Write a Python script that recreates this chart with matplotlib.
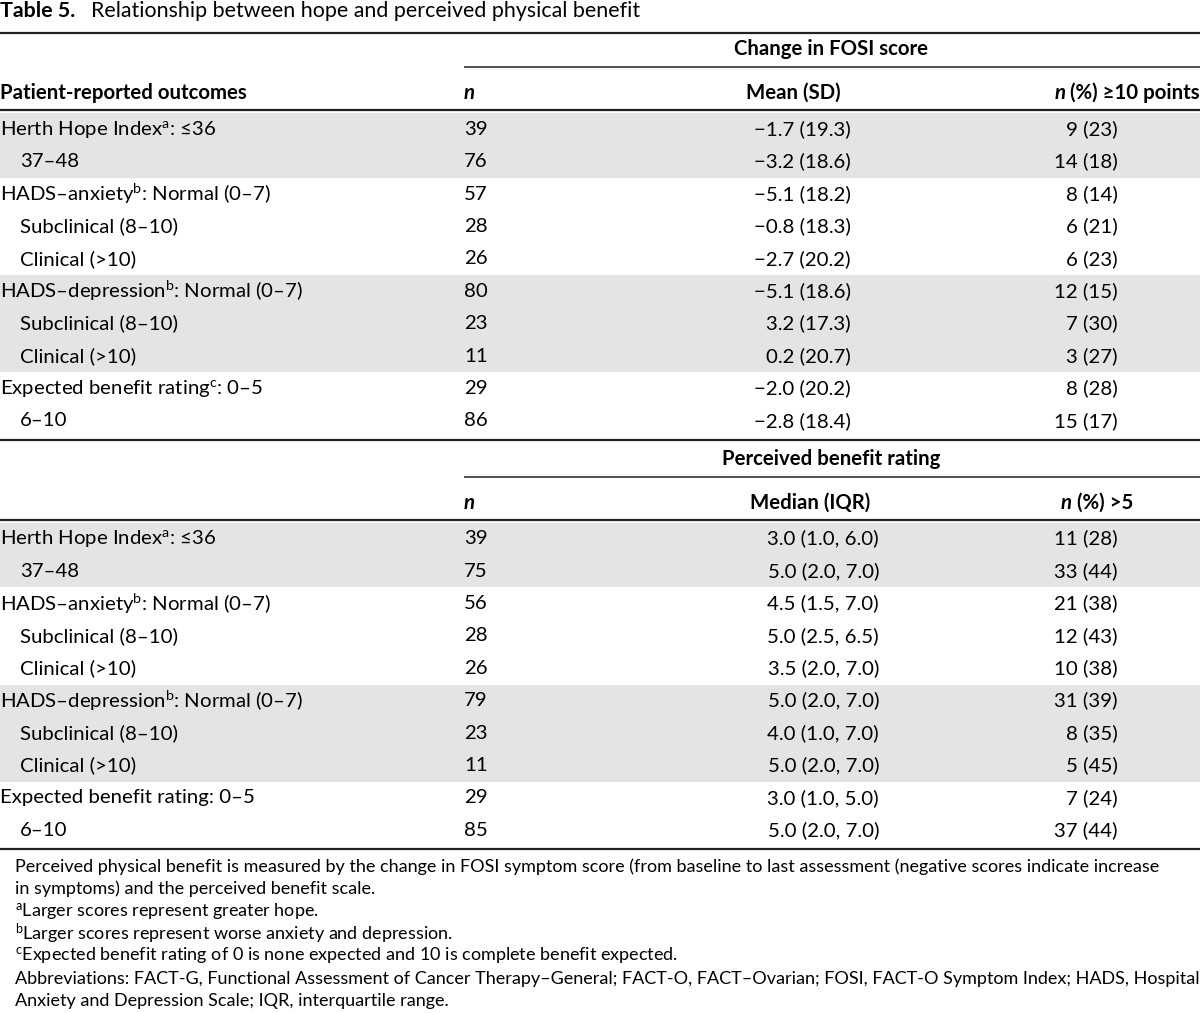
import matplotlib
matplotlib.use("Agg")
import matplotlib.pyplot as plt

plt.rcParams['font.family'] = ['Lato', 'DejaVu Sans']
plt.rcParams['mathtext.fontset'] = 'custom'
plt.rcParams['mathtext.rm'] = 'Lato'
plt.rcParams['mathtext.it'] = 'Lato:italic'
plt.rcParams['mathtext.bf'] = 'Lato:bold'

# ---- data ----
title_bold = "Table 5."
title_rest = "Relationship between hope and perceived physical benefit"

labels1 = ["Herth Hope Index$^{\\rm a}$: ≤36", "37–48",
           "HADS–anxiety$^{\\rm b}$: Normal (0–7)", "Subclinical (8–10)", "Clinical (>10)",
           "HADS–depression$^{\\rm b}$: Normal (0–7)", "Subclinical (8–10)", "Clinical (>10)",
           "Expected benefit rating$^{\\rm c}$: 0–5", "6–10"]
labels2 = labels1[:8] + ["Expected benefit rating: 0–5", "6–10"]
indent = [0, 1, 0, 1, 1, 0, 1, 1, 0, 1]
shaded = [1, 1, 0, 0, 0, 1, 1, 1, 0, 0]

n1 = [39, 76, 57, 28, 26, 80, 23, 11, 29, 86]
mean1 = [-1.7, -3.2, -5.1, -0.8, -2.7, -5.1, 3.2, 0.2, -2.0, -2.8]
sd1 = [19.3, 18.6, 18.2, 18.3, 20.2, 18.6, 17.3, 20.7, 20.2, 18.4]
cnt1 = [9, 14, 8, 6, 6, 12, 7, 3, 8, 15]
pct1 = [23, 18, 14, 21, 23, 15, 30, 27, 28, 17]

n2 = [39, 75, 56, 28, 26, 79, 23, 11, 29, 85]
med2 = [3.0, 5.0, 4.5, 5.0, 3.5, 5.0, 4.0, 5.0, 3.0, 5.0]
q1_2 = [1.0, 2.0, 1.5, 2.5, 2.0, 2.0, 1.0, 2.0, 1.0, 2.0]
q3_2 = [6.0, 7.0, 7.0, 6.5, 7.0, 7.0, 7.0, 7.0, 5.0, 7.0]
cnt2 = [11, 33, 21, 12, 10, 31, 8, 5, 7, 37]
pct2 = [28, 44, 38, 43, 38, 39, 35, 45, 24, 44]

footnotes = [
    "Perceived physical benefit is measured by the change in FOSI symptom score (from baseline to last assessment (negative scores indicate increase",
    "in symptoms) and the perceived benefit scale.",
    "$^{\\rm a}$Larger scores represent greater hope.",
    "$^{\\rm b}$Larger scores represent worse anxiety and depression.",
    "$^{\\rm c}$Expected benefit rating of 0 is none expected and 10 is complete benefit expected.",
    "Abbreviations: FACT-G, Functional Assessment of Cancer Therapy–General; FACT-O, FACT–Ovarian; FOSI, FACT-O Symptom Index; HADS, Hospital",
    "Anxiety and Depression Scale; IQR, interquartile range.",
]

# ---- layout ----
W, H = 1200, 1013
fig = plt.figure(figsize=(W / 100, H / 100), dpi=100)
ax = fig.add_axes([0, 0, 1, 1])
ax.set_xlim(0, W)
ax.set_ylim(H, 0)
ax.axis('off')
renderer = fig.canvas.get_renderer()

FS = 14.7
FS_NOTE = 13.0
FS_TITLE = 15.4
GRAY = '#e4e4e4'
ROW_H = 32.4
X_N = 464
X_MEAN_R = 851
X_MED_R = 879
X_PCT_R = 1118


def runs(x, y, parts, ha='left', size=FS):
    # parts: list of (string, weight, style); drawn one after another
    objs = [ax.text(0, y, s, fontsize=size, fontweight=w, fontstyle=st,
                    va='center', ha='left') for s, w, st in parts]
    widths = [o.get_window_extent(renderer=renderer).width for o in objs]
    total = sum(widths)
    if ha == 'right':
        x = x - total
    elif ha == 'center':
        x = x - total / 2
    for o, wd in zip(objs, widths):
        o.set_x(x)
        x += wd


def hline(y, x0=0, x1=W, lw=1.3):
    ax.plot([x0, x1], [y, y], color='#222222', lw=lw, solid_capstyle='butt')


# title
runs(0, 11, [(title_bold + "   ", 'bold', 'normal'), (title_rest, 'normal', 'normal')],
     size=FS_TITLE)

hline(33, lw=1.6)


def draw_table(top, group_title, head_first, col2_head, col2_cx, col3_parts, col3_r,
               labels, ns, col2, col3, x2_r):
    ax.text(831, top + 16, group_title, fontsize=FS, fontweight='bold', ha='center', va='center')
    hline(top + 34, X_N, W, lw=1.1)
    hy = top + 60
    if head_first:
        ax.text(0, hy, head_first, fontsize=FS, fontweight='bold', va='center')
    ax.text(X_N, hy, "n", fontsize=FS, fontweight='bold', fontstyle='italic', va='center')
    ax.text(col2_cx, hy, col2_head, fontsize=FS, fontweight='bold', ha='center', va='center')
    runs(col3_r, hy, col3_parts, ha='right')
    hline(top + 77, lw=1.6)
    row0 = top + 80
    for i, lab in enumerate(labels):
        y0 = row0 + i * ROW_H
        if shaded[i]:
            ax.add_patch(plt.Rectangle((0, y0), W, ROW_H, facecolor=GRAY, edgecolor='none', zorder=0))
        yc = y0 + ROW_H / 2
        ax.text(20 * indent[i], yc, lab, fontsize=FS, va='center')
        ax.text(X_N, yc, str(ns[i]), fontsize=FS, va='center')
        ax.text(x2_r, yc, col2[i], fontsize=FS, va='center', ha='right')
        ax.text(X_PCT_R, yc, col3[i], fontsize=FS, va='center', ha='right')
    return row0 + len(labels) * ROW_H


def fmt(v):
    return f"{v:.1f}".replace('-', '−')


col2_a = [f"{fmt(m)} ({s:.1f})" for m, s in zip(mean1, sd1)]
col3_a = [f"{c} ({p})" for c, p in zip(cnt1, pct1)]
col2_b = [f"{m:.1f} ({a:.1f}, {b:.1f})" for m, a, b in zip(med2, q1_2, q3_2)]
col3_b = [f"{c} ({p})" for c, p in zip(cnt2, pct2)]

bottom1 = draw_table(33, "Change in FOSI score", "Patient-reported outcomes", "Mean (SD)", 793,
                     [("n", 'bold', 'italic'), (" (%) ≥10 points", 'bold', 'normal')], W,
                     labels1, n1, col2_a, col3_a, X_MEAN_R)
hline(bottom1 + 2.5, lw=1.6)
bottom2 = draw_table(bottom1 + 5.5, "Perceived benefit rating", None, "Median (IQR)", 810,
                     [("n", 'bold', 'italic'), (" (%) >5", 'bold', 'normal')], 1133,
                     labels2, n2, col2_b, col3_b, X_MED_R)
hline(bottom2 + 2.5, lw=1.6)

# footnotes
for i, line in enumerate(footnotes):
    ax.text(15, bottom2 + 20 + i * 22.4, line, fontsize=FS_NOTE, va='center')

fig.savefig("out.png", dpi=100, facecolor='white')
